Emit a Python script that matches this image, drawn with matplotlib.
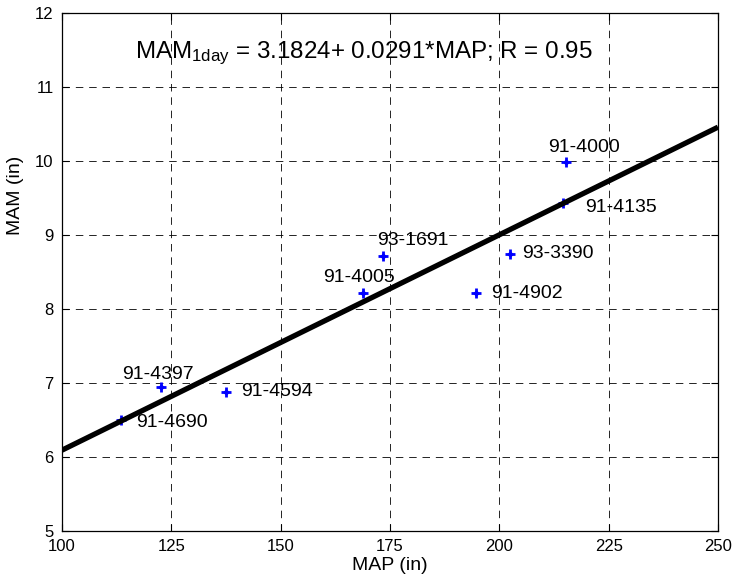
import matplotlib
matplotlib.use("Agg")
import matplotlib.pyplot as plt
import numpy as np

plt.rcParams['font.family'] = ['Liberation Sans', 'DejaVu Sans']
plt.rcParams['mathtext.fontset'] = 'custom'
plt.rcParams['mathtext.rm'] = 'Liberation Sans'
plt.rcParams['mathtext.it'] = 'Liberation Sans:italic'

# Data
stations = ['91-4690', '91-4397', '91-4594', '91-4005', '93-1691',
            '91-4902', '93-3390', '91-4000', '91-4135']
map_in = [113.6, 122.6, 137.5, 168.8, 173.3, 194.7, 202.5, 215.2, 214.6]
mam_in = [6.50, 6.95, 6.88, 8.22, 8.72, 8.22, 8.75, 9.98, 9.43]
intercept = 3.1824
slope = 0.0291
r_value = 0.95
fit_x = [100, 250]
x_ticks = [100, 125, 150, 175, 200, 225, 250]
y_ticks = [5, 6, 7, 8, 9, 10, 11, 12]

# label offsets (pixels)
label_offsets = {
    '91-4690': (15, -3), '91-4397': (-39, 12), '91-4594': (15, 0),
    '91-4005': (-40, 15), '93-1691': (-5, 15), '91-4902': (15, -1),
    '93-3390': (12, 0), '91-4000': (-18, 15), '91-4135': (22, -4),
}

fig = plt.figure(figsize=(7.35, 5.79), dpi=100)
ax = fig.add_axes([62/735, 48/579, 656/735, 518/579])

ax.plot(map_in, mam_in, linestyle='none', marker='+', color='blue',
        markersize=7, markeredgewidth=2.0, zorder=3)
ax.plot(map_in, mam_in, linestyle='none', marker='D', color='blue',
        markersize=2.5, zorder=3)

fx = np.array(fit_x, dtype=float)
ax.plot(fx, intercept + slope * fx, color='black', linewidth=3.8,
        solid_capstyle='butt', zorder=4)

for name, x, y in zip(stations, map_in, mam_in):
    ax.annotate(name, (x, y), xytext=label_offsets[name],
                textcoords='offset pixels', ha='left', va='center',
                fontsize=14, zorder=5)

ax.text(116.7, 11.39,
        r'MAM$_{\mathrm{1day}}$' + f' = {intercept}+ {slope}*MAP; R = {r_value}',
        fontsize=17.4, ha='left', va='baseline', zorder=5)

ax.set_xlim(100, 250)
ax.set_ylim(5, 12)
ax.set_xticks(x_ticks)
ax.set_yticks(y_ticks)
ax.tick_params(direction='in', length=5, width=0.8, labelsize=12,
               top=True, right=True, pad=6, colors='black')
ax.grid(True, color='black', linestyle=(0, (9, 7)), linewidth=0.6)
ax.set_axisbelow(True)
for s in ax.spines.values():
    s.set_linewidth(0.9)

ax.set_xlabel('MAP (in)', fontsize=14, labelpad=2)
ax.set_ylabel('MAM (in)', fontsize=14)
ax.yaxis.set_label_coords(-0.058, 0.647)

fig.savefig('out.png', dpi=100)
